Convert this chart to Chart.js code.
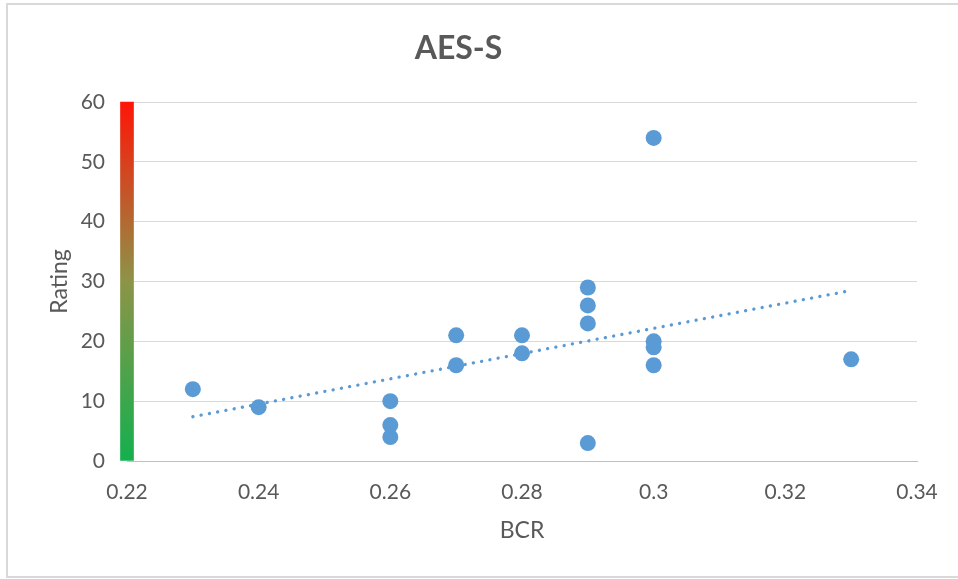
<!DOCTYPE html>
<html>
<head>
<meta charset="utf-8">
<script src="https://cdn.jsdelivr.net/npm/chart.js@4"></script>
<style>
  html, body { margin: 0; padding: 0; background: #fff; }
  #wrap { width: 958px; height: 579px; }
</style>
</head>
<body>
<div id="wrap"><canvas id="chart"></canvas></div>
<script>
// BCR vs rating
const bcr    = [0.23, 0.24, 0.26, 0.26, 0.26, 0.27, 0.27, 0.28, 0.28, 0.29, 0.29, 0.29, 0.29, 0.30, 0.30, 0.30, 0.30, 0.33];
const rating = [12,   9,    10,   6,    4,    21,   16,   21,   18,   29,   26,   23,   3,    54,   20,   19,   16,   17];

// dotted trend line end points
const trendX = [0.23, 0.33];
const trendY = [7.4, 28.5];

// colour band along the rating axis
const bandX = 0.22;
const bandRange = [0, 60];

const xTicks = [0.22, 0.24, 0.26, 0.28, 0.3, 0.32, 0.34];
const yTicks = [0, 10, 20, 30, 40, 50, 60];

const textColor = '#595959';
const gridColor = '#d9d9d9';
const font = 'Lato, "Open Sans", sans-serif';

const frame = {
  id: 'frame',
  beforeDraw(chart) {
    const ctx = chart.ctx;
    ctx.save();
    ctx.fillStyle = '#fff';
    ctx.fillRect(0, 0, chart.width, chart.height);
    ctx.strokeStyle = '#d9d9d9';
    ctx.lineWidth = 2;
    ctx.strokeRect(7, 4, chart.width, chart.height - 6);
    ctx.restore();
  }
};

function bandFill(context) {
  const area = context.chart.chartArea;
  if (!area) return '#22b14c';
  const g = context.chart.ctx.createLinearGradient(0, area.bottom, 0, area.top);
  g.addColorStop(0, '#13b04e');
  g.addColorStop(0.5, '#8c9447');
  g.addColorStop(1, '#ff1508');
  return g;
}

new Chart(document.getElementById('chart'), {
  type: 'scatter',
  data: {
    datasets: [
      {
        label: 'Rating',
        data: bcr.map((x, i) => ({ x, y: rating[i] })),
        backgroundColor: '#5b9bd5',
        borderWidth: 0,
        pointRadius: 8,
        pointHoverRadius: 8,
        order: 0,
      },
      {
        type: 'line',
        label: 'Trend',
        data: trendX.map((x, i) => ({ x, y: trendY[i] })),
        borderColor: '#5b9bd5',
        borderWidth: 3.3,
        borderDash: [0.1, 8.3],
        borderCapStyle: 'round',
        pointRadius: 0,
        fill: false,
        order: 1,
      },
      {
        type: 'bar',
        label: 'Band',
        data: [{ x: bandX, y: bandRange }],
        backgroundColor: bandFill,
        barThickness: 13,
        borderWidth: 0,
        clip: false,
        order: 2,
      },
    ],
  },
  options: {
    responsive: true,
    maintainAspectRatio: false,
    animation: false,
    layout: { padding: { left: 0, right: 41, top: 0, bottom: 0 } },
    plugins: {
      legend: { display: false },
      tooltip: { enabled: false },
      title: {
        display: true,
        text: 'AES-S',
        color: textColor,
        font: { family: font, size: 32, weight: 'bold' },
        padding: { top: 29, bottom: 34.6 },
      },
    },
    scales: {
      x: {
        type: 'linear',
        min: 0.22,
        max: 0.34,
        offset: false,
        afterBuildTicks: s => { s.ticks = xTicks.map(value => ({ value })); },
        afterFit: s => { s.height = 118; },
        ticks: {
          color: textColor,
          font: { family: font, size: 21 },
          padding: 19,
          callback: v => String(v),
        },
        grid: { display: false, drawTicks: false, offset: false },
        border: { display: true, color: '#bfbfbf', width: 1 },
        title: {
          display: true,
          text: 'BCR',
          color: textColor,
          font: { family: font, size: 23 },
          padding: { top: 0, bottom: 35 },
        },
      },
      y: {
        type: 'linear',
        min: 0,
        max: 60,
        afterBuildTicks: s => { s.ticks = yTicks.map(value => ({ value })); },
        afterFit: s => { s.width = 127; },
        ticks: {
          color: textColor,
          font: { family: font, size: 21 },
          padding: 22,
        },
        grid: { color: gridColor, lineWidth: 1, drawTicks: false },
        border: { display: false },
        title: {
          display: true,
          text: 'Rating',
          color: textColor,
          font: { family: font, size: 23 },
          padding: { top: 46, bottom: 0 },
        },
      },
    },
  },
  plugins: [frame],
});
</script>
</body>
</html>
